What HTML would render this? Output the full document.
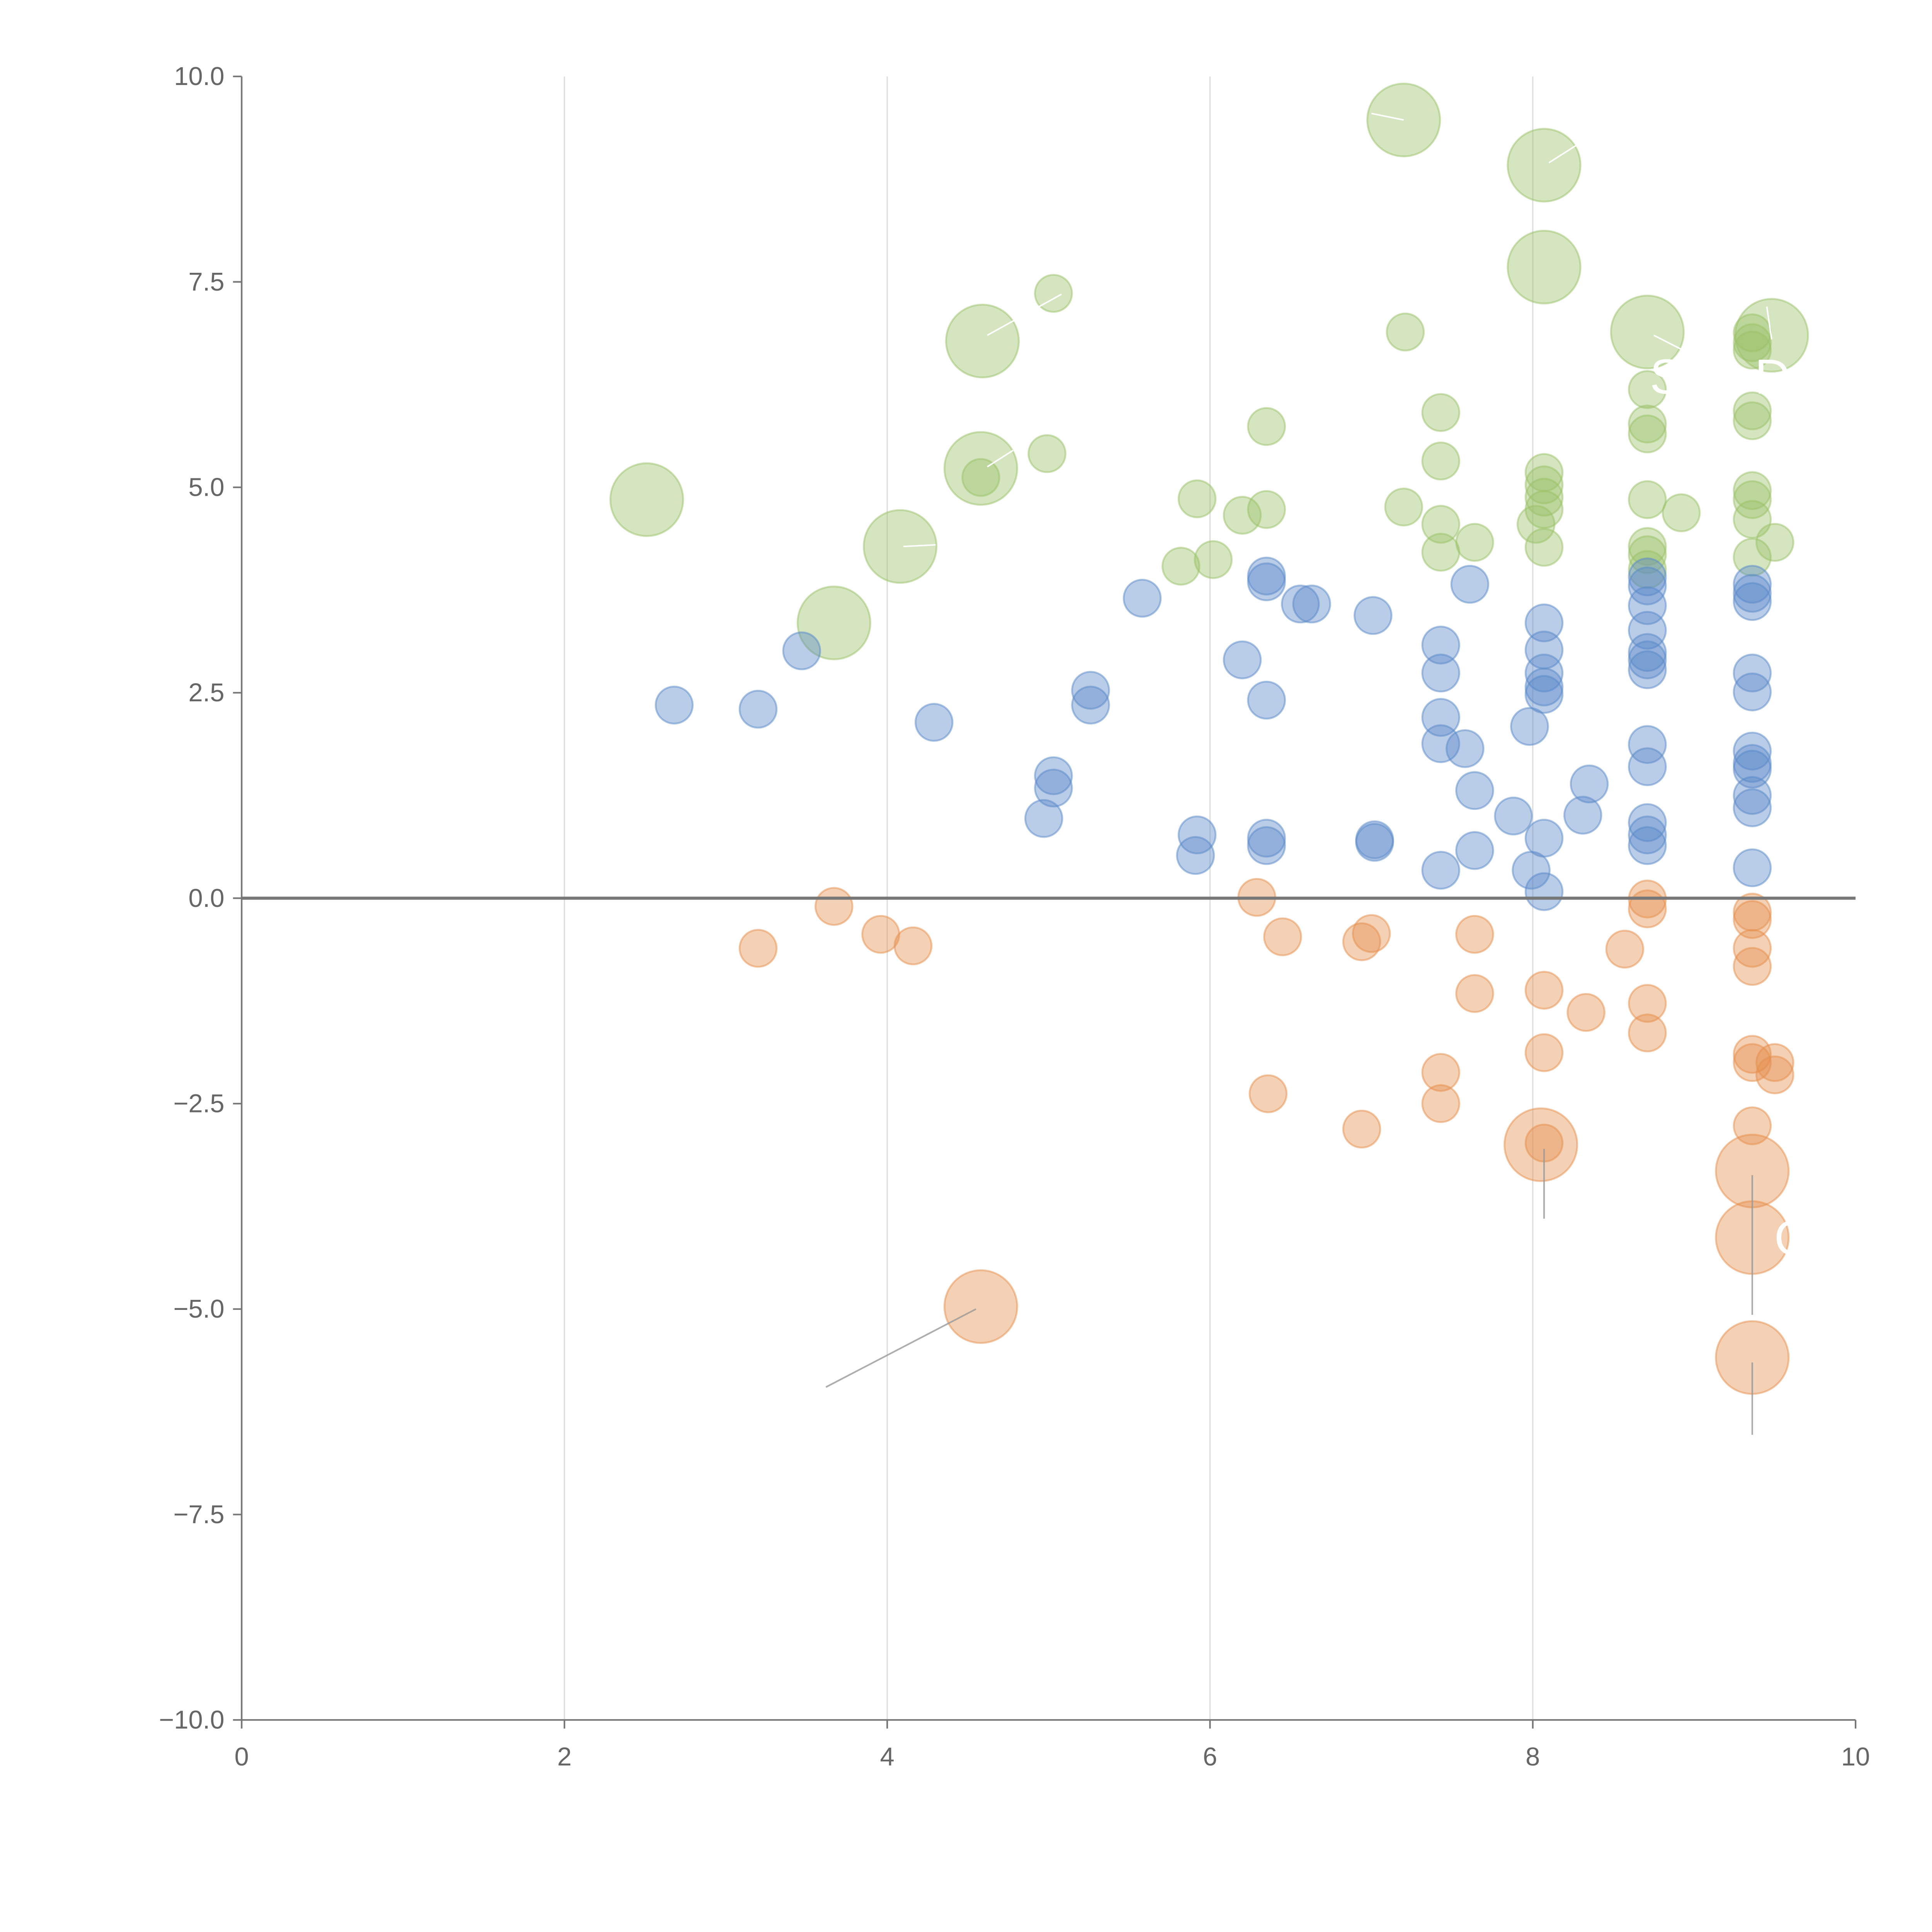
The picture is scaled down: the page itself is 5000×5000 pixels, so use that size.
<!DOCTYPE html>
<html><head><meta charset="utf-8"><title>Bubble scatter chart</title>
<style>html,body{margin:0;padding:0;background:#fff}svg{display:block}</style></head>
<body>
<svg id="chart" width="5000" height="5000" viewBox="0 0 1567 1567" xmlns="http://www.w3.org/2000/svg" font-family="Liberation Sans, sans-serif">
<g id="grid"></g>
<g id="axes"></g>
<g id="marks"></g>
<g id="annot"></g>
</svg>
<script>
const xTicks = [0, 2, 4, 6, 8, 10];
const xTickLabels = ["0", "2", "4", "6", "8", "10"];
const yTicks = [10, 7.5, 5, 2.5, 0, -2.5, -5, -7.5, -10];
const yTickLabels = ["10.0", "7.5", "5.0", "2.5", "0.0", "\u22122.5", "\u22125.0", "\u22127.5", "\u221210.0"];

// [x, y, size(1=small,2=large)]
const greenSeries = [
[7.20,9.47,2],[8.07,8.92,2],[8.07,7.68,2],[8.71,6.89,2],[9.48,6.85,2],[4.59,6.78,2],[4.58,5.23,2],[2.51,4.85,2],[4.08,4.28,2],[3.67,3.35,2],
[5.03,7.36,1],[7.21,6.89,1],[7.43,5.91,1],[6.35,5.74,1],[7.43,5.32,1],[4.99,5.41,1],[4.58,5.12,1],[5.92,4.86,1],[6.35,4.73,1],[6.20,4.66,1],
[7.20,4.76,1],[7.43,4.55,1],[7.43,4.21,1],[7.64,4.33,1],[5.82,4.04,1],[6.02,4.12,1],
[8.07,5.18,1],[8.07,5.03,1],[8.07,4.88,1],[8.07,4.73,1],[8.02,4.55,1],[8.07,4.27,1],
[8.71,6.19,1],[8.71,5.77,1],[8.71,5.65,1],[8.71,4.85,1],[8.71,4.28,1],[8.71,4.18,1],[8.71,4.00,1],[8.92,4.69,1],
[9.36,6.88,1],[9.36,6.76,1],[9.36,6.67,1],[9.36,5.93,1],[9.36,5.81,1],[9.36,4.96,1],[9.36,4.85,1],[9.36,4.61,1],[9.36,4.15,1],[9.50,4.33,1]
];
const blueSeries = [
[2.68,2.35,1],[3.20,2.30,1],[3.47,3.01,1],[4.29,2.14,1],[5.03,1.49,1],[5.03,1.34,1],[4.97,0.97,1],[5.26,2.53,1],[5.26,2.35,1],[5.58,3.65,1],
[6.20,2.90,1],[6.35,3.92,1],[6.35,3.85,1],[6.35,2.41,1],[6.35,0.73,1],[6.35,0.64,1],[6.56,3.58,1],[6.63,3.58,1],[5.92,0.77,1],[5.91,0.52,1],
[7.01,3.44,1],[7.02,0.71,1],[7.02,0.68,1],
[7.43,3.08,1],[7.43,2.74,1],[7.43,2.20,1],[7.43,1.88,1],[7.43,0.34,1],[7.58,1.82,1],[7.61,3.82,1],[7.64,1.31,1],[7.64,0.58,1],[7.88,1.00,1],[7.98,2.09,1],
[8.07,3.35,1],[8.07,3.02,1],[8.07,2.74,1],[8.07,2.57,1],[8.07,2.48,1],[8.07,0.73,1],[8.07,0.08,1],[7.99,0.34,1],[8.31,1.01,1],[8.35,1.39,1],
[8.71,3.91,1],[8.71,3.80,1],[8.71,3.56,1],[8.71,3.26,1],[8.71,2.99,1],[8.71,2.90,1],[8.71,2.78,1],[8.71,1.87,1],[8.71,1.60,1],[8.71,0.92,1],[8.71,0.77,1],[8.71,0.64,1],
[9.36,3.82,1],[9.36,3.71,1],[9.36,3.61,1],[9.36,2.74,1],[9.36,2.51,1],[9.36,1.79,1],[9.36,1.64,1],[9.36,1.57,1],[9.36,1.25,1],[9.36,1.10,1],[9.36,0.37,1]
];
const orangeSeries = [
[3.20,-0.61,1],[3.67,-0.10,1],[3.96,-0.44,1],[4.16,-0.58,1],[6.29,0.01,1],[6.45,-0.47,1],[6.94,-0.53,1],[7.00,-0.43,1],
[7.64,-0.44,1],[7.64,-1.16,1],[7.43,-2.12,1],[7.43,-2.50,1],[6.36,-2.38,1],[6.94,-2.81,1],
[8.07,-1.12,1],[8.07,-1.88,1],[8.07,-2.98,1],[8.33,-1.39,1],[8.57,-0.62,1],
[8.71,-0.01,1],[8.71,-0.13,1],[8.71,-1.28,1],[8.71,-1.64,1],
[9.36,-0.17,1],[9.36,-0.26,1],[9.36,-0.61,1],[9.36,-0.83,1],[9.36,-1.90,1],[9.36,-2.00,1],[9.36,-2.77,1],[9.50,-2.00,1],[9.50,-2.15,1],
[8.05,-3.00,2],[9.36,-3.32,2],[9.36,-4.13,2],[9.36,-5.59,2],[4.58,-4.97,2]
];
// leader lines [x1,y1,x2,y2] in data units
const leaderLines = [[4.55,-5.0,3.62,-5.95],[8.07,-3.05,8.07,-3.9],[9.36,-3.37,9.36,-5.07],[9.36,-5.65,9.36,-6.53]];

const NS = "http://www.w3.org/2000/svg";
const X0 = 196, X1 = 1505, YT = 62, YB = 1395;
function sx(v){ return X0 + (v - 0) / 10 * (X1 - X0); }
function sy(v){ return YB - (v + 10) / 20 * (YB - YT); }
function mk(tag, attrs, parent){ const e = document.createElementNS(NS, tag); for (const k in attrs) e.setAttribute(k, attrs[k]); parent.appendChild(e); return e; }

const grid = document.getElementById('grid'), axes = document.getElementById('axes'), marks = document.getElementById('marks'), annot = document.getElementById('annot');

xTicks.forEach((t, i) => {
  if (t > 0 && t < 10) {
    const g = mk('line', {x1: sx(t), x2: sx(t), y1: YT, y2: YB, stroke: '#dddddd', 'stroke-width': 1}, grid);
    
    
  }
  const tk = mk('line', {x1: sx(t), x2: sx(t), y1: YB, y2: YB + 7, stroke: '#777', 'stroke-width': 1.3}, axes);
  
  
  const lb = mk('text', {x: sx(t), y: YB + 37, 'text-anchor': 'middle', 'font-size': 21, fill: '#666'}, axes);
  lb.textContent = xTickLabels[i];
  
  
});
yTicks.forEach((t, i) => {
  const tk = mk('line', {x1: X0 - 7, x2: X0, y1: sy(t), y2: sy(t), stroke: '#777', 'stroke-width': 1.3}, axes);
  
  
  const lb = mk('text', {x: X0 - 14, y: sy(t) + 7, 'text-anchor': 'end', 'font-size': 21, fill: '#666'}, axes);
  lb.textContent = yTickLabels[i];
  
  
});
const yAx = mk('line', {x1: X0, x2: X0, y1: YT, y2: YB, stroke: '#777', 'stroke-width': 1.3}, axes);


const xAx = mk('line', {x1: X0, x2: X1, y1: YB, y2: YB, stroke: '#777', 'stroke-width': 1.3}, axes);



function drawSeries(arr, color, name){
  arr.forEach(p => {
    const r = p[2] === 2 ? 29.5 : 15;
    const c = mk('circle', {cx: sx(p[0]), cy: sy(p[1]), r: r, fill: color, 'fill-opacity': 0.42, stroke: color, 'stroke-opacity': 0.5, 'stroke-width': 1.5}, marks);
    
    
  });
}
drawSeries(greenSeries, '#9cc26a', 'green-bubble');
drawSeries(blueSeries, '#5a89c8', 'blue-bubble');
drawSeries(orangeSeries, '#e58f4e', 'orange-bubble');

const zl = mk('line', {x1: X0, x2: X1, y1: sy(0), y2: sy(0), stroke: '#777', 'stroke-width': 2.5}, annot);



leaderLines.forEach(l => {
  const ln = mk('line', {x1: sx(l[0]), y1: sy(l[1]), x2: sx(l[2]), y2: sy(l[3]), stroke: '#999', 'stroke-width': 1.3, 'stroke-opacity': 0.8}, annot);
  
  
});
const whiteLines = [[4.62,6.85,5.08,7.35],[4.62,5.25,4.78,5.45],[4.10,4.28,4.30,4.30],[7.00,9.55,7.20,9.47],[8.10,8.95,8.30,9.2],[8.75,6.85,8.95,6.65],[9.48,6.8,9.45,7.2]];
whiteLines.forEach(l => {
  const ln = mk('line', {x1: sx(l[0]), y1: sy(l[1]), x2: sx(l[2]), y2: sy(l[3]), stroke: '#fff', 'stroke-width': 1.2}, annot);
  
  
});
const labels = [[9.48,-4.13,'C'],[8.71,6.35,'S'],[9.36,6.35,'D']];
labels.forEach(l => {
  const t = mk('text', {x: sx(l[0]) + 2, y: sy(l[1]) + 14, 'font-size': 40, fill: '#fff'}, annot);
  t.textContent = l[2];
  
  
});
</script>
</body></html>
